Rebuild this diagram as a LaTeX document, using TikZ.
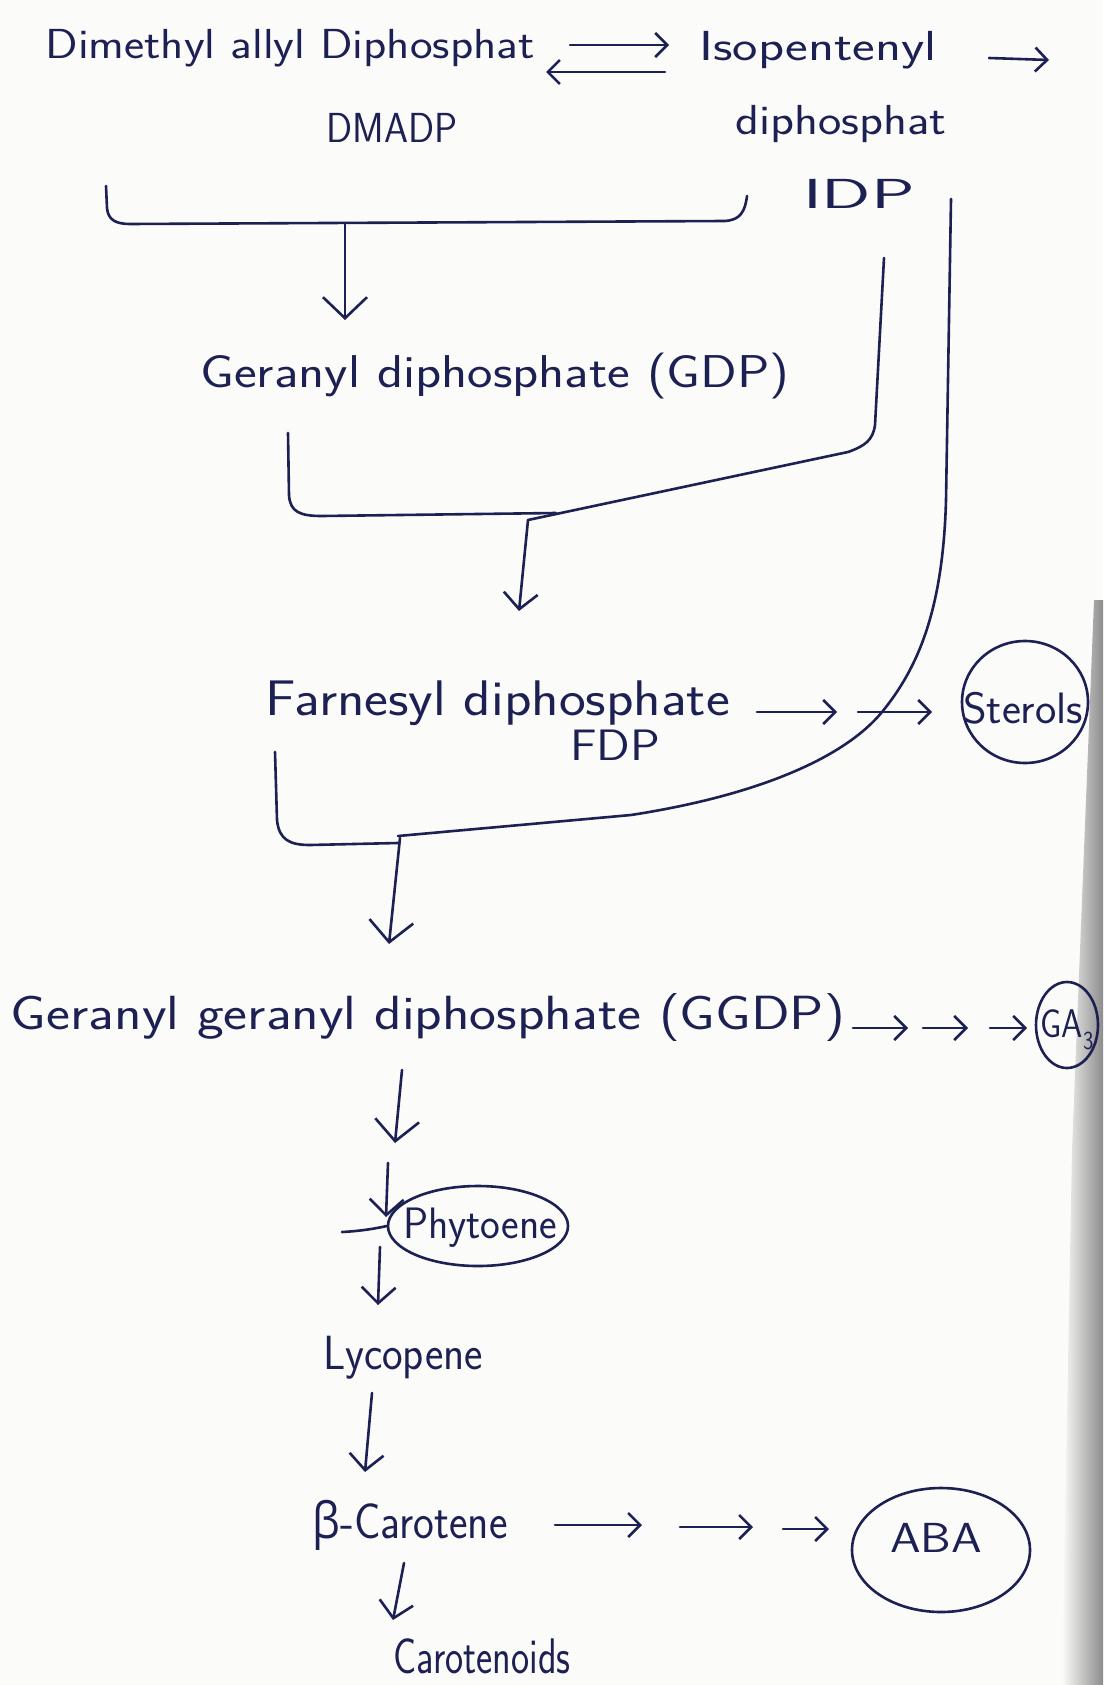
\documentclass[tikz,border=0pt]{standalone}
\usepackage{fontspec}
\usepackage{graphicx}
\usetikzlibrary{arrows.meta,shapes.geometric,calc}
\newfontfamily\greekfont{Open Sans}
\definecolor{ink}{RGB}{28,32,82}
\definecolor{paper}{RGB}{251,251,250}
% text set at a given size and stretched to a given width
\newcommand{\hw}[3]{\fontsize{#1pt}{#1pt}\selectfont\resizebox{#2pt}{\height}{#3}}
\tikzset{
  pen/.style={draw=ink, line width=2.6pt, line cap=round, line join=round},
  txt/.style={text=ink, inner sep=0pt, font=\sffamily},
  ring/.style={pen, ellipse, inner sep=0pt},
  bigdown/.style={pen, -{Straight Barb[length=21pt,width=44pt]}},
  middown/.style={pen, -{Straight Barb[length=16pt,width=34pt]}},
  sidearrow/.style={pen, -{Straight Barb[length=12pt,width=24pt]}},
}
\begin{document}
\begin{tikzpicture}[x=1pt,y=-1pt]
\fill[paper] (0,0) rectangle (1103,1685);
\useasboundingbox (0,0) rectangle (1103,1685);
% shadow along the right edge of the sheet
\shade[left color=paper, right color=black!45] (1094,600) -- (1103,600) -- (1103,1685) -- (1062,1685) -- (1072,1150) -- cycle;

% ---------- texts ----------
\node[txt] (dmapp) at (290,48) {\hw{42}{489}{Dimethyl allyl Diphosphat}};
\node[txt] (dmadp) at (392,128) {\hw{42}{131}{DMADP}};
\node[txt] (ipp) at (818,50) {\hw{42}{237}{Isopentenyl}};
\node[txt] (ipp2) at (841,124) {\hw{42}{211}{diphosphat}};
\node[txt] (idp) at (859,194) {\hw{42}{112}{IDP}};

\node[txt] (gdp) at (495,376) {\hw{46}{589}{Geranyl diphosphate (GDP)}};

\node[txt] (fdp) at (498,703) {\hw{50}{464}{Farnesyl diphosphate}};
\node[txt] (fdpab) at (615,745) {\hw{44}{90}{FDP}};
\node[txt] (sterols) at (1023,708) {\hw{44}{120}{Sterols}};
\node[ring, minimum width=126pt, minimum height=122pt] (sterring) at (1025,702) {};

\node[txt] (ggdp) at (428,1018) {\hw{48}{834}{Geranyl geranyl diphosphate (GGDP)}};
\node[txt] (ga) at (1067,1030) {\hw{40}{53}{GA\raisebox{-0.3em}{\fontsize{26pt}{26pt}\selectfont 3}}};
\node[ring, minimum width=62pt, minimum height=86pt] (garing) at (1067,1025) {};

\node[txt] (phy) at (480,1228) {\hw{44}{154}{Phytoene}};
\node[ring, minimum width=180pt, minimum height=80pt] (phyring) at (478,1226) {};

\node[txt] (lyc) at (403,1358) {\hw{48}{160}{Lycopene}};
\node[txt] (bcar) at (410,1525) {\hw{50}{195}{{\greekfont β}-Carotene}};
\node[txt] (carot) at (482,1656) {\hw{50}{177}{Carotenoids}};
\node[txt] (aba) at (936,1538) {\hw{42}{92}{ABA}};
\node[ring, minimum width=178pt, minimum height=124pt] (abaring) at (941,1550) {};

% ---------- connector end points ----------
\coordinate (fwdS) at (570,45);   \coordinate (fwdE) at (669,45);
\coordinate (revS) at (665,72);   \coordinate (revE) at (546,72);
\coordinate (ippS) at (989,58);   \coordinate (ippE) at (1049,60);
\coordinate (b1l) at (106,186);   \coordinate (b1r) at (747,196);
\coordinate (j1) at (345,223);    \coordinate (j1e) at (345,320);
\coordinate (idpA) at (884,258);  \coordinate (j2) at (528,520);
\coordinate (b2l) at (288,433);   \coordinate (b2r) at (556,513);
\coordinate (j2e) at (519,611);
\coordinate (idpB) at (951,199);  \coordinate (j3) at (398,836);
\coordinate (b3l) at (275,752);   \coordinate (j3s) at (400,838);
\coordinate (j3e) at (389,944);
\coordinate (st1s) at (757,712);  \coordinate (st1e) at (837,712);
\coordinate (st2s) at (858,712);  \coordinate (st2e) at (932,712);
\coordinate (ga1s) at (853,1028); \coordinate (ga1e) at (908,1028);
\coordinate (ga2s) at (923,1028); \coordinate (ga2e) at (968,1028);
\coordinate (ga3s) at (990,1028); \coordinate (ga3e) at (1027,1028);
\coordinate (gg1s) at (402,1070); \coordinate (gg1e) at (395,1143);
\coordinate (ph1s) at (388,1163); \coordinate (ph1e) at (386,1217);
\coordinate (phl) at (342,1232);
\coordinate (ph2s) at (380,1247); \coordinate (ph2e) at (378,1305);
\coordinate (ly1s) at (372,1393); \coordinate (ly1e) at (365,1472);
\coordinate (bc1s) at (404,1563); \coordinate (bc1e) at (393,1620);
\coordinate (ab1s) at (555,1525); \coordinate (ab1e) at (642,1525);
\coordinate (ab2s) at (680,1527); \coordinate (ab2e) at (753,1527);
\coordinate (ab3s) at (783,1529); \coordinate (ab3e) at (829,1529);

% ---------- DMADP <-> IDP ----------
\draw[sidearrow] (fwdS) -- (fwdE);
\draw[sidearrow] (revS) -- (revE);
\draw[sidearrow] (ippS) -- (ippE);

% ---------- DMADP + IDP -> GDP ----------
\draw[pen] (b1l) -- (107,208) .. controls (108,220) and (116,224) .. (130,224)
  -- (725,221) .. controls (740,220) and (745,212) .. (b1r);
\draw[bigdown] (j1) -- (j1e);

% ---------- GDP + IDP -> FDP ----------
\draw[pen] (idpA) -- (875,425) .. controls (873,440) and (865,446) .. (848,452) -- (j2);
\draw[pen] (b2l) -- (289,495) .. controls (290,512) and (300,516) .. (322,516) -- (b2r);
\draw[middown] (j2) -- (j2e);

% ---------- FDP + IDP -> GGDP ----------
\draw[pen] (idpB) -- (946,500) .. controls (943,610) and (918,668) .. (882,712)
  .. controls (845,757) and (760,795) .. (631,815) -- (j3);
\draw[pen] (b3l) -- (277,820) .. controls (279,840) and (290,845) .. (310,845) -- (398,843);
\draw[bigdown] (j3s) -- (j3e);

% ---------- FDP -> Sterols ----------
\draw[sidearrow] (st1s) -- (st1e);
\draw[sidearrow] (st2s) -- (st2e);

% ---------- GGDP -> GA3 ----------
\draw[sidearrow] (ga1s) -- (ga1e);
\draw[sidearrow] (ga2s) -- (ga2e);
\draw[sidearrow] (ga3s) -- (ga3e);

% ---------- carotenoid branch ----------
\draw[bigdown] (gg1s) -- (gg1e);
\draw[middown] (ph1s) -- (ph1e);
\draw[pen] (phl) .. controls (362,1231) and (378,1228) .. (phyring.west);
\draw[middown] (ph2s) -- (ph2e);
\draw[middown] (ly1s) -- (ly1e);
\draw[middown] (bc1s) -- (bc1e);

% ---------- beta-Carotene -> ABA ----------
\draw[sidearrow] (ab1s) -- (ab1e);
\draw[sidearrow] (ab2s) -- (ab2e);
\draw[sidearrow] (ab3s) -- (ab3e);
\end{tikzpicture}
\end{document}
